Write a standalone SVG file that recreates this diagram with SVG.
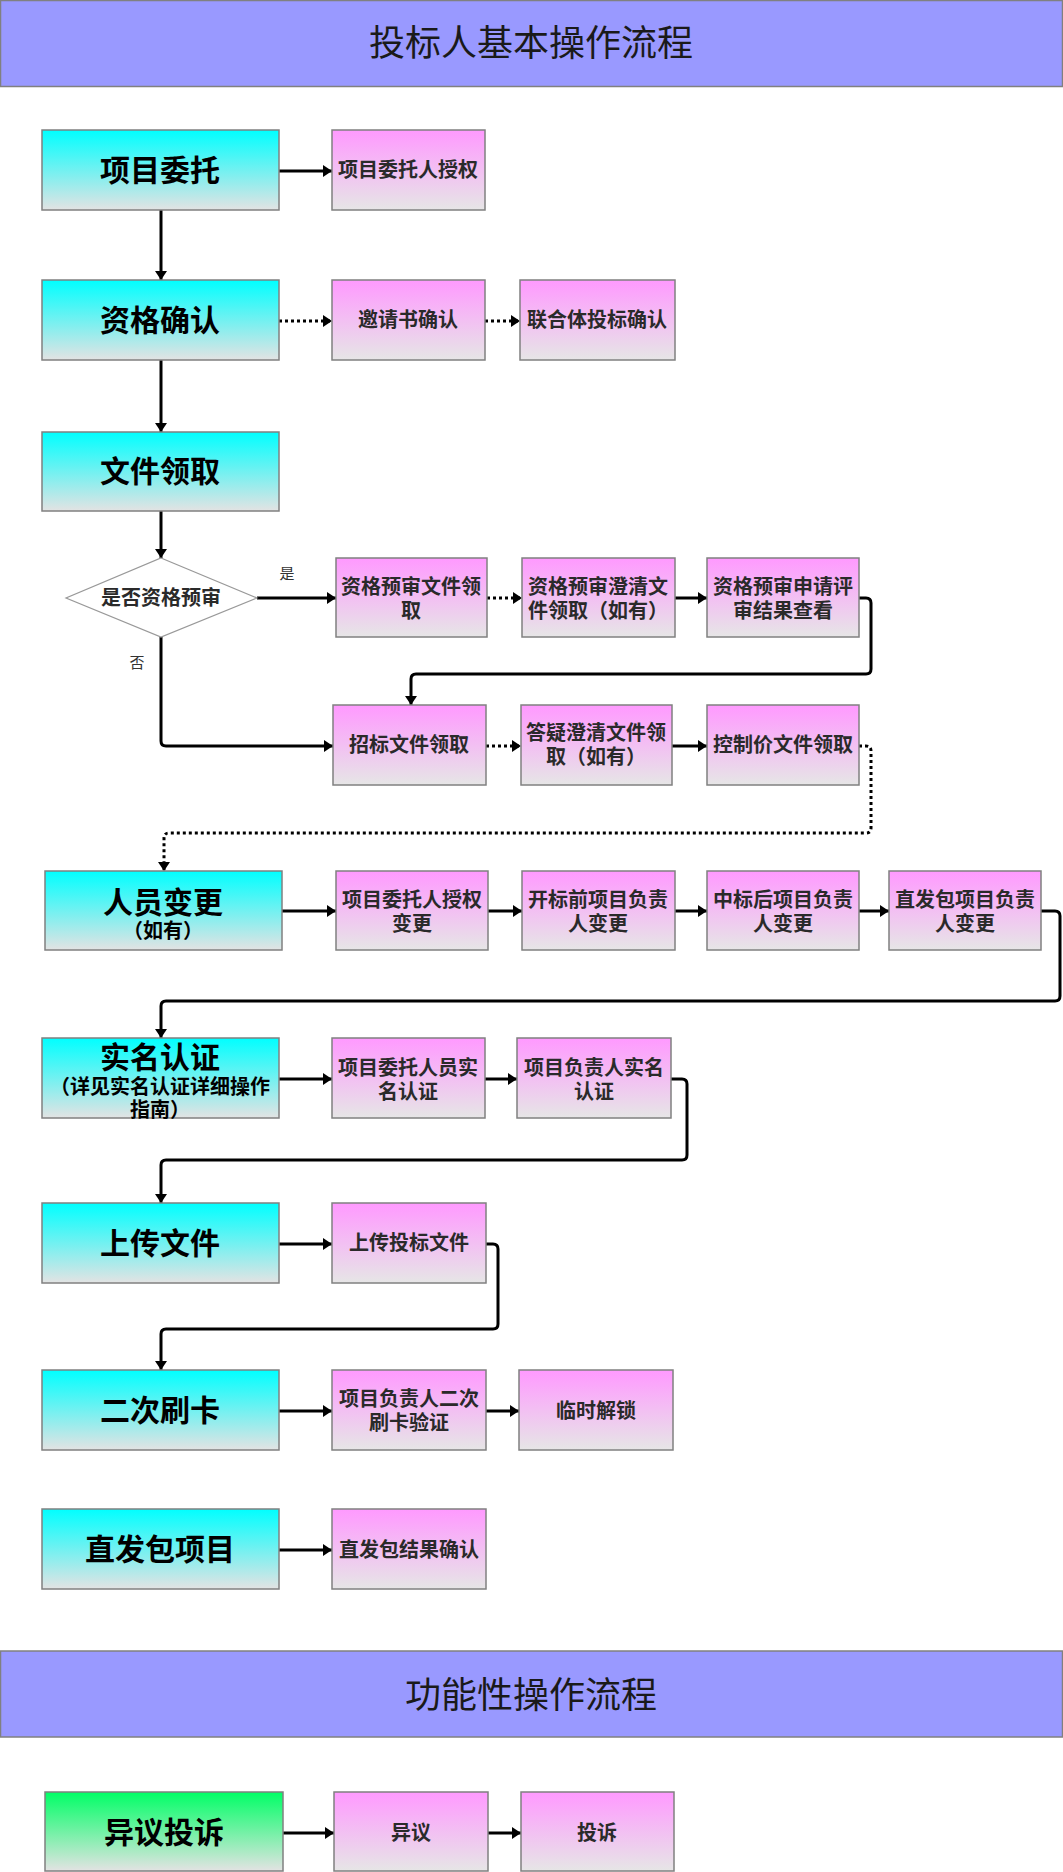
<svg xmlns="http://www.w3.org/2000/svg" width="1063" height="1872" viewBox="0 0 1063 1872">
<defs>
<linearGradient id="gCyan" x1="0" y1="0" x2="0" y2="1"><stop offset="0" stop-color="#00FFFF"/><stop offset="1" stop-color="#E3E3E3"/></linearGradient>
<linearGradient id="gPink" x1="0" y1="0" x2="0" y2="1"><stop offset="0" stop-color="#FF99FF"/><stop offset="1" stop-color="#E6E6E6"/></linearGradient>
<linearGradient id="gGreen" x1="0" y1="0" x2="0" y2="1"><stop offset="0" stop-color="#00FF66"/><stop offset="1" stop-color="#E3E3E3"/></linearGradient>
<marker id="ah" viewBox="0 0 9 12" refX="9" refY="6" markerWidth="9" markerHeight="12" markerUnits="userSpaceOnUse" orient="auto"><path d="M0,0 L9,6 L0,12 z" fill="#000"/></marker>
</defs>
<style>
text{font-family:"Liberation Sans","Noto Sans CJK SC",sans-serif;text-anchor:middle}
.bar{fill:#9999FF;stroke:#808080;stroke-width:1.5}
.title{font-size:36px;fill:#1a1a1a}
.main rect{fill:url(#gCyan);stroke:#808080;stroke-width:1.5}
.green rect{fill:url(#gGreen);stroke:#808080;stroke-width:1.5}
.sub rect{fill:url(#gPink);stroke:#808080;stroke-width:1.5}
.mt{font-size:30px;font-weight:bold;fill:#000}
.ms{font-size:20px;font-weight:bold;fill:#000}
.st{font-size:20px;font-weight:bold;fill:#2a2a2a}
.lbl{font-size:15px;fill:#333}
.c{fill:none;stroke:#000;stroke-width:3;marker-end:url(#ah)}
.d{fill:none;stroke:#000;stroke-width:3;stroke-dasharray:3 3;marker-end:url(#ah)}
</style>
<rect width="1063" height="1872" fill="#fff"/>

<g id="title1"><rect class="bar" x="0.5" y="0.5" width="1062" height="86"/><text class="title" x="531" y="56">投标人基本操作流程</text></g>
<g id="title2"><rect class="bar" x="0.5" y="1651" width="1062" height="86"/><text class="title" x="531" y="1708">功能性操作流程</text></g>

<g id="connectors">
<path class="c" d="M161,210 V280"/>
<path class="c" d="M161,360 V432"/>
<path class="c" d="M161,511 V558"/>
<path class="c" d="M279,171 H332"/>
<path class="d" d="M279,321 H332"/>
<path class="d" d="M485,321 H520"/>
<path class="c" d="M257,598 H336"/>
<path class="d" d="M487,598 H522"/>
<path class="c" d="M675,598 H707"/>
<path class="c" d="M859,598 H866 Q871,598 871,603 V669 Q871,674 866,674 H416 Q411,674 411,679 V705"/>
<path class="c" d="M161,637 V741 Q161,746 166,746 H333"/>
<path class="d" d="M486,746 H521"/>
<path class="c" d="M672,746 H707"/>
<path class="d" d="M859,746 H866 Q871,746 871,751 V828 Q871,833 866,833 H169 Q164,833 164,838 V871"/>
<path class="c" d="M282,911 H336"/>
<path class="c" d="M488,911 H522"/>
<path class="c" d="M675,911 H707"/>
<path class="c" d="M859,911 H889"/>
<path class="c" d="M1041,911 H1055 Q1060,911 1060,916 V996 Q1060,1001 1055,1001 H166 Q161,1001 161,1006 V1038"/>
<path class="c" d="M279,1079 H332"/>
<path class="c" d="M485,1079 H517"/>
<path class="c" d="M671,1079 H682 Q687,1079 687,1084 V1155 Q687,1160 682,1160 H166 Q161,1160 161,1165 V1203"/>
<path class="c" d="M279,1244 H332"/>
<path class="c" d="M486,1244 H493 Q498,1244 498,1249 V1324 Q498,1329 493,1329 H166 Q161,1329 161,1334 V1370"/>
<path class="c" d="M279,1411 H332"/>
<path class="c" d="M486,1411 H519"/>
<path class="c" d="M279,1550 H332"/>
<path class="c" d="M283,1833 H334"/>
<path class="c" d="M488,1833 H521"/>
</g>
<g id="edge-labels">
<text class="lbl" x="287" y="579">是</text>
<text class="lbl" x="137" y="668">否</text>
</g>

<g id="n-xmwt" class="main"><rect x="42" y="130" width="237" height="80"/><text class="mt" x="160" y="181">项目委托</text></g>
<g id="n-zgqr" class="main"><rect x="42" y="280" width="237" height="80"/><text class="mt" x="160" y="331">资格确认</text></g>
<g id="n-wjlq" class="main"><rect x="42" y="432" width="237" height="79"/><text class="mt" x="160" y="482">文件领取</text></g>
<g id="n-decision"><path d="M161,558 L257,598 L161,637 L66,598 z" fill="#fff" stroke="#999" stroke-width="1.2"/><text class="st" x="161" y="605">是否资格预审</text></g>
<g id="n-rybg" class="main"><rect x="45" y="871" width="237" height="79"/><text class="mt" x="163" y="913">人员变更</text><text class="ms" x="163" y="938">（如有）</text></g>
<g id="n-smrz" class="main"><rect x="42" y="1038" width="237" height="80"/><text class="mt" x="160" y="1068">实名认证</text><text class="ms" x="160" y="1094">（详见实名认证详细操作</text><text class="ms" x="160" y="1117">指南）</text></g>
<g id="n-scwj" class="main"><rect x="42" y="1203" width="237" height="80"/><text class="mt" x="160" y="1254">上传文件</text></g>
<g id="n-ecsk" class="main"><rect x="42" y="1370" width="237" height="80"/><text class="mt" x="160" y="1421">二次刷卡</text></g>
<g id="n-zfbxm" class="main"><rect x="42" y="1509" width="237" height="80"/><text class="mt" x="160" y="1560">直发包项目</text></g>
<g id="n-yyts" class="green"><rect x="45" y="1792" width="238" height="79"/><text class="mt" x="164" y="1843">异议投诉</text></g>

<g id="s-xmwtrsq" class="sub"><rect x="332" y="130" width="153" height="80"/><text class="st" x="408" y="177">项目委托人授权</text></g>
<g id="s-yqsqr" class="sub"><rect x="332" y="280" width="153" height="80"/><text class="st" x="408" y="327">邀请书确认</text></g>
<g id="s-lhttbqr" class="sub"><rect x="520" y="280" width="155" height="80"/><text class="st" x="597" y="327">联合体投标确认</text></g>
<g id="s-zgyswjlq" class="sub"><rect x="336" y="558" width="151" height="79"/><text class="st" x="411" y="594">资格预审文件领</text><text class="st" x="411" y="618">取</text></g>
<g id="s-zgysqq" class="sub"><rect x="522" y="558" width="153" height="79"/><text class="st" x="598" y="594">资格预审澄清文</text><text class="st" x="598" y="618">件领取（如有）</text></g>
<g id="s-zgyssq" class="sub"><rect x="707" y="558" width="152" height="79"/><text class="st" x="783" y="594">资格预审申请评</text><text class="st" x="783" y="618">审结果查看</text></g>
<g id="s-zbwjlq" class="sub"><rect x="333" y="705" width="153" height="80"/><text class="st" x="409" y="752">招标文件领取</text></g>
<g id="s-dyqq" class="sub"><rect x="521" y="705" width="151" height="80"/><text class="st" x="596" y="740">答疑澄清文件领</text><text class="st" x="596" y="764">取（如有）</text></g>
<g id="s-kzj" class="sub"><rect x="707" y="705" width="152" height="80"/><text class="st" x="783" y="752">控制价文件领取</text></g>
<g id="s-sqbg" class="sub"><rect x="336" y="871" width="152" height="79"/><text class="st" x="412" y="907">项目委托人授权</text><text class="st" x="412" y="931">变更</text></g>
<g id="s-kbq" class="sub"><rect x="522" y="871" width="153" height="79"/><text class="st" x="598" y="907">开标前项目负责</text><text class="st" x="598" y="931">人变更</text></g>
<g id="s-zbh" class="sub"><rect x="707" y="871" width="152" height="79"/><text class="st" x="783" y="907">中标后项目负责</text><text class="st" x="783" y="931">人变更</text></g>
<g id="s-zfbfz" class="sub"><rect x="889" y="871" width="152" height="79"/><text class="st" x="965" y="907">直发包项目负责</text><text class="st" x="965" y="931">人变更</text></g>
<g id="s-wtrsm" class="sub"><rect x="332" y="1038" width="153" height="80"/><text class="st" x="408" y="1075">项目委托人员实</text><text class="st" x="408" y="1099">名认证</text></g>
<g id="s-fzrsm" class="sub"><rect x="517" y="1038" width="154" height="80"/><text class="st" x="594" y="1075">项目负责人实名</text><text class="st" x="594" y="1099">认证</text></g>
<g id="s-sctbwj" class="sub"><rect x="332" y="1203" width="154" height="80"/><text class="st" x="409" y="1250">上传投标文件</text></g>
<g id="s-ecskyz" class="sub"><rect x="332" y="1370" width="154" height="80"/><text class="st" x="409" y="1406">项目负责人二次</text><text class="st" x="409" y="1430">刷卡验证</text></g>
<g id="s-lsjs" class="sub"><rect x="519" y="1370" width="154" height="80"/><text class="st" x="596" y="1418">临时解锁</text></g>
<g id="s-zfbjg" class="sub"><rect x="332" y="1509" width="154" height="80"/><text class="st" x="409" y="1557">直发包结果确认</text></g>
<g id="s-yy" class="sub"><rect x="334" y="1792" width="154" height="79"/><text class="st" x="411" y="1840">异议</text></g>
<g id="s-ts" class="sub"><rect x="521" y="1792" width="153" height="79"/><text class="st" x="597" y="1840">投诉</text></g>
</svg>
